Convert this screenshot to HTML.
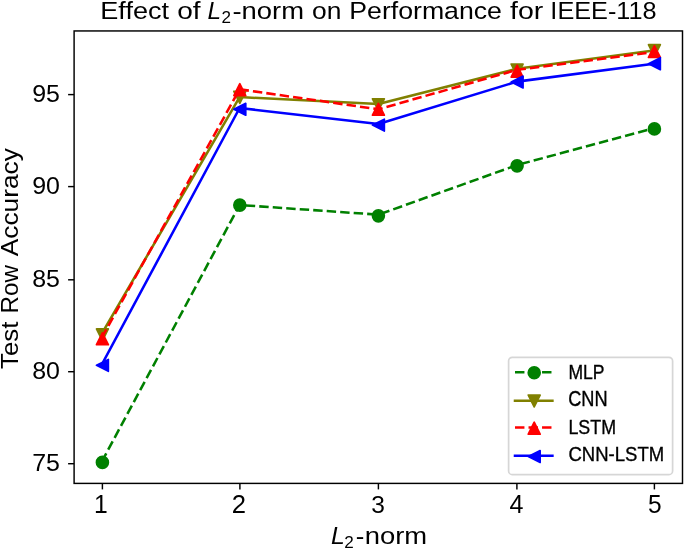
<!DOCTYPE html>
<html><head><meta charset="utf-8"><title>Effect of L2-norm on Performance for IEEE-118</title><style>
html,body{margin:0;padding:0;background:#fff;}
body{width:685px;height:549px;overflow:hidden;font-family:"Liberation Sans",sans-serif;}
svg{display:block;will-change:transform;filter:blur(0.45px);}
text{fill:#000;}
</style></head><body>
<svg width="685" height="549" viewBox="0 0 685 549">
<rect width="685" height="549" fill="#fff"/>
<polyline points="101.80,461.60 239.60,205.00 378.40,214.67 517.00,165.07 654.45,128.07" fill="none" stroke="#008000" stroke-width="2.55" stroke-dasharray="9.44 4.08" stroke-linecap="butt" stroke-linejoin="round"/>
<circle cx="102.40" cy="462.40" r="5.95" fill="#008000" stroke="#008000" stroke-width="1.7"/>
<circle cx="239.80" cy="205.10" r="5.95" fill="#008000" stroke="#008000" stroke-width="1.7"/>
<circle cx="378.40" cy="215.85" r="5.95" fill="#008000" stroke="#008000" stroke-width="1.7"/>
<circle cx="517.10" cy="165.85" r="5.95" fill="#008000" stroke="#008000" stroke-width="1.7"/>
<circle cx="654.40" cy="128.90" r="5.95" fill="#008000" stroke="#008000" stroke-width="1.7"/>
<polyline points="101.80,333.70 239.60,97.08 378.40,104.10 517.00,68.85 654.45,50.33" fill="none" stroke="#808000" stroke-width="2.55" stroke-linecap="square" stroke-linejoin="round"/>
<path d="M102.40,340.85 L96.45,328.95 L108.35,328.95 Z" fill="#808000" stroke="#808000" stroke-width="1.7" stroke-linejoin="round"/>
<path d="M239.80,103.25 L233.85,91.35 L245.75,91.35 Z" fill="#808000" stroke="#808000" stroke-width="1.7" stroke-linejoin="round"/>
<path d="M378.40,110.70 L372.45,98.80 L384.35,98.80 Z" fill="#808000" stroke="#808000" stroke-width="1.7" stroke-linejoin="round"/>
<path d="M517.10,75.95 L511.15,64.05 L523.05,64.05 Z" fill="#808000" stroke="#808000" stroke-width="1.7" stroke-linejoin="round"/>
<path d="M654.40,56.60 L648.45,44.70 L660.35,44.70 Z" fill="#808000" stroke="#808000" stroke-width="1.7" stroke-linejoin="round"/>
<polyline points="101.80,337.60 239.60,89.28 378.40,109.30 517.00,69.84 654.45,51.91" fill="none" stroke="#ff0000" stroke-width="2.55" stroke-dasharray="9.44 4.08" stroke-linecap="butt" stroke-linejoin="round"/>
<path d="M102.40,332.85 L96.45,344.75 L108.35,344.75 Z" fill="#ff0000" stroke="#ff0000" stroke-width="1.7" stroke-linejoin="round"/>
<path d="M239.80,83.70 L233.85,95.60 L245.75,95.60 Z" fill="#ff0000" stroke="#ff0000" stroke-width="1.7" stroke-linejoin="round"/>
<path d="M378.40,103.35 L372.45,115.25 L384.35,115.25 Z" fill="#ff0000" stroke="#ff0000" stroke-width="1.7" stroke-linejoin="round"/>
<path d="M517.10,65.15 L511.15,77.05 L523.05,77.05 Z" fill="#ff0000" stroke="#ff0000" stroke-width="1.7" stroke-linejoin="round"/>
<path d="M654.40,45.55 L648.45,57.45 L660.35,57.45 Z" fill="#ff0000" stroke="#ff0000" stroke-width="1.7" stroke-linejoin="round"/>
<polyline points="101.80,364.60 239.60,108.00 378.40,124.04 517.00,81.62 654.45,63.59" fill="none" stroke="#0000ff" stroke-width="2.55" stroke-linecap="square" stroke-linejoin="round"/>
<path d="M96.45,365.35 L108.35,359.40 L108.35,371.30 Z" fill="#0000ff" stroke="#0000ff" stroke-width="1.7" stroke-linejoin="round"/>
<path d="M233.85,109.25 L245.75,103.30 L245.75,115.20 Z" fill="#0000ff" stroke="#0000ff" stroke-width="1.7" stroke-linejoin="round"/>
<path d="M372.45,125.10 L384.35,119.15 L384.35,131.05 Z" fill="#0000ff" stroke="#0000ff" stroke-width="1.7" stroke-linejoin="round"/>
<path d="M511.15,82.05 L523.05,76.10 L523.05,88.00 Z" fill="#0000ff" stroke="#0000ff" stroke-width="1.7" stroke-linejoin="round"/>
<path d="M648.45,63.70 L660.35,57.75 L660.35,69.65 Z" fill="#0000ff" stroke="#0000ff" stroke-width="1.7" stroke-linejoin="round"/>
<rect x="74.1" y="30.95" width="608.40" height="452.45" fill="none" stroke="#000" stroke-width="1.45" stroke-linejoin="miter"/>
<line x1="102.40" y1="483.4" x2="102.40" y2="489.40" stroke="#000" stroke-width="1.45"/>
<line x1="239.90" y1="483.4" x2="239.90" y2="489.40" stroke="#000" stroke-width="1.45"/>
<line x1="378.40" y1="483.4" x2="378.40" y2="489.40" stroke="#000" stroke-width="1.45"/>
<line x1="516.90" y1="483.4" x2="516.90" y2="489.40" stroke="#000" stroke-width="1.45"/>
<line x1="654.40" y1="483.4" x2="654.40" y2="489.40" stroke="#000" stroke-width="1.45"/>
<line x1="68.10" y1="463.70" x2="74.1" y2="463.70" stroke="#000" stroke-width="1.45"/>
<line x1="68.10" y1="371.70" x2="74.1" y2="371.70" stroke="#000" stroke-width="1.45"/>
<line x1="68.10" y1="279.80" x2="74.1" y2="279.80" stroke="#000" stroke-width="1.45"/>
<line x1="68.10" y1="186.60" x2="74.1" y2="186.60" stroke="#000" stroke-width="1.45"/>
<line x1="68.10" y1="94.60" x2="74.1" y2="94.60" stroke="#000" stroke-width="1.45"/>
<rect x="508.6" y="357.3" width="164.00" height="117.30" rx="3.7" ry="3.7" fill="#fff" fill-opacity="0.8" stroke="#cccccc" stroke-opacity="0.8" stroke-width="1.7"/>
<line x1="515.0" y1="372.3" x2="552.4" y2="372.3" stroke="#008000" stroke-width="2.55" stroke-dasharray="9.44 4.08"/>
<circle cx="534.20" cy="372.80" r="5.95" fill="#008000" stroke="#008000" stroke-width="1.7"/>
<line x1="515.0" y1="400.7" x2="552.4" y2="400.7" stroke="#808000" stroke-width="2.55" stroke-linecap="square"/>
<path d="M534.20,406.95 L528.25,395.05 L540.15,395.05 Z" fill="#808000" stroke="#808000" stroke-width="1.7" stroke-linejoin="round"/>
<line x1="515.0" y1="427.5" x2="552.4" y2="427.5" stroke="#ff0000" stroke-width="2.55" stroke-dasharray="9.44 4.08"/>
<path d="M534.20,422.25 L528.25,434.15 L540.15,434.15 Z" fill="#ff0000" stroke="#ff0000" stroke-width="1.7" stroke-linejoin="round"/>
<line x1="515.0" y1="455.7" x2="552.4" y2="455.7" stroke="#0000ff" stroke-width="2.55" stroke-linecap="square"/>
<path d="M528.25,456.50 L540.15,450.55 L540.15,462.45 Z" fill="#0000ff" stroke="#0000ff" stroke-width="1.7" stroke-linejoin="round"/>
<text id="t_effect" x="0" y="0" font-size="24.800" font-family="Liberation Sans, sans-serif" transform="translate(100.300,19.200) scale(1.0930,1)">Effect</text>
<text id="t_of" x="0" y="0" font-size="24.800" font-family="Liberation Sans, sans-serif" transform="translate(177.164,19.200) scale(1.1312,1)">of</text>
<text id="t_L" x="0" y="0" font-size="24.350" font-style="italic" font-family="Liberation Sans, sans-serif" transform="translate(207.500,19.200) scale(1.0000,1)">L</text>
<text id="t_2" x="0" y="0" font-size="17.000" font-family="Liberation Sans, sans-serif" transform="translate(221.495,23.120) scale(1.0052,1)">2</text>
<text id="t_norm" x="0" y="0" font-size="24.800" font-family="Liberation Sans, sans-serif" transform="translate(232.435,19.200) scale(1.1050,1)">-norm</text>
<text id="t_on" x="0" y="0" font-size="24.800" font-family="Liberation Sans, sans-serif" transform="translate(311.987,19.200) scale(1.0653,1)">on</text>
<text id="t_perf" x="0" y="0" font-size="24.800" font-family="Liberation Sans, sans-serif" transform="translate(349.250,19.200) scale(1.0761,1)">Performance</text>
<text id="t_for" x="0" y="0" font-size="24.800" font-family="Liberation Sans, sans-serif" transform="translate(509.992,19.200) scale(1.1498,1)">for</text>
<text id="t_ieee" x="0" y="0" font-size="24.350" font-family="Liberation Sans, sans-serif" transform="translate(550.362,19.200) scale(1.0378,1)">IEEE-118</text>
<text id="x_L" x="0" y="0" font-size="24.350" font-style="italic" font-family="Liberation Sans, sans-serif" transform="translate(330.987,543.900) scale(1.0191,1)">L</text>
<text id="x_2" x="0" y="0" font-size="17.000" font-family="Liberation Sans, sans-serif" transform="translate(344.243,547.800) scale(1.0069,1)">2</text>
<text id="x_h" x="0" y="0" font-size="24.800" font-family="Liberation Sans, sans-serif" transform="translate(355.714,543.900) scale(1.0357,1)">-</text>
<text id="x_norm" x="0" y="0" font-size="24.800" font-family="Liberation Sans, sans-serif" transform="translate(364.775,543.900) scale(1.1050,1)">norm</text>
<text id="y_test" x="0" y="0" font-size="24.800" font-family="Liberation Sans, sans-serif" transform="translate(18.300,369.021) rotate(-90) scale(1.0425,1)">Test</text>
<text id="y_row" x="0" y="0" font-size="24.800" font-family="Liberation Sans, sans-serif" transform="translate(18.300,313.448) rotate(-90) scale(0.9758,1)">Row</text>
<text id="y_acc" x="0" y="0" font-size="24.800" font-family="Liberation Sans, sans-serif" transform="translate(18.300,256.262) rotate(-90) scale(1.0609,1)">Accuracy</text>
<text id="xt1" x="0" y="0" font-size="25.020" font-family="Liberation Sans, sans-serif" transform="translate(93.944,513.247) scale(0.9874,1)">1</text>
<text id="xt2" x="0" y="0" font-size="25.004" font-family="Liberation Sans, sans-serif" transform="translate(231.798,513.248) scale(1.0253,1)">2</text>
<text id="xt3" x="0" y="0" font-size="24.637" font-family="Liberation Sans, sans-serif" transform="translate(371.224,512.993) scale(0.9963,1)">3</text>
<text id="xt4" x="0" y="0" font-size="25.383" font-family="Liberation Sans, sans-serif" transform="translate(509.478,513.248) scale(0.9881,1)">4</text>
<text id="xt5" x="0" y="0" font-size="25.004" font-family="Liberation Sans, sans-serif" transform="translate(647.978,512.988) scale(0.9812,1)">5</text>
<text id="yt75" x="0" y="0" font-size="24.646" font-family="Liberation Sans, sans-serif" transform="translate(32.205,471.244) scale(1.0135,1)">75</text>
<text id="yt80" x="0" y="0" font-size="24.284" font-family="Liberation Sans, sans-serif" transform="translate(32.205,379.247) scale(1.0284,1)">80</text>
<text id="yt85" x="0" y="0" font-size="24.284" font-family="Liberation Sans, sans-serif" transform="translate(32.203,287.497) scale(1.0288,1)">85</text>
<text id="yt90" x="0" y="0" font-size="24.284" font-family="Liberation Sans, sans-serif" transform="translate(32.203,194.247) scale(1.0285,1)">90</text>
<text id="yt95" x="0" y="0" font-size="24.284" font-family="Liberation Sans, sans-serif" transform="translate(32.204,102.247) scale(1.0288,1)">95</text>
<text id="lg1" x="0" y="0" font-size="20.050" stroke="#000" stroke-width="0.35" font-family="Liberation Sans, sans-serif" transform="translate(568.484,379.291) scale(0.8752,1)">MLP</text>
<text id="lg2" x="0" y="0" font-size="21.335" stroke="#000" stroke-width="0.35" font-family="Liberation Sans, sans-serif" transform="translate(568.180,406.296) scale(0.8540,1)">CNN</text>
<text id="lg3" x="0" y="0" font-size="20.027" stroke="#000" stroke-width="0.35" font-family="Liberation Sans, sans-serif" transform="translate(568.436,434.319) scale(0.8904,1)">LSTM</text>
<text id="lg4" x="0" y="0" font-size="20.650" stroke="#000" stroke-width="0.35" font-family="Liberation Sans, sans-serif" transform="translate(568.492,461.307) scale(0.8965,1)">CNN-LSTM</text>
</svg>
</body></html>
